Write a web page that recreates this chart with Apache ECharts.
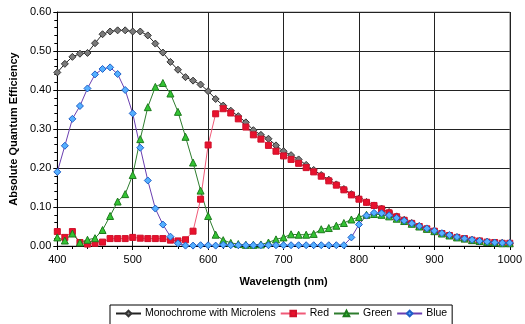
<!DOCTYPE html>
<html>
<head>
<meta charset="utf-8">
<script src="https://cdn.jsdelivr.net/npm/echarts@6/dist/echarts.min.js"></script>
<style>
  html, body { margin: 0; padding: 0; background: #fff; }
  #chart { width: 525px; height: 324px; }
</style>
</head>
<body>
<div id="chart"></div>
<script>
const wavelengths = [400, 410, 420, 430, 440, 450, 460, 470, 480, 490,
  500, 510, 520, 530, 540, 550, 560, 570, 580, 590,
  600, 610, 620, 630, 640, 650, 660, 670, 680, 690,
  700, 710, 720, 730, 740, 750, 760, 770, 780, 790,
  800, 810, 820, 830, 840, 850, 860, 870, 880, 890,
  900, 910, 920, 930, 940, 950, 960, 970, 980, 990, 1000]

const mono = [0.445, 0.467, 0.485, 0.493, 0.495, 0.520, 0.543, 0.550, 0.553, 0.553,
  0.550, 0.550, 0.540, 0.519, 0.496, 0.472, 0.452, 0.433, 0.424, 0.414,
  0.397, 0.377, 0.360, 0.347, 0.333, 0.317, 0.297, 0.285, 0.275, 0.258,
  0.243, 0.233, 0.222, 0.208, 0.195, 0.182, 0.170, 0.158, 0.146, 0.133,
  0.122, 0.113, 0.104, 0.096, 0.087, 0.076, 0.067, 0.059, 0.051, 0.045,
  0.039, 0.032, 0.027, 0.022, 0.019, 0.015, 0.013, 0.011, 0.009, 0.008, 0.007]

const red = [0.037, 0.022, 0.037, 0.009, 0.005, 0.007, 0.010, 0.019, 0.019, 0.019,
  0.022, 0.020, 0.019, 0.019, 0.019, 0.015, 0.013, 0.016, 0.038, 0.120,
  0.259, 0.339, 0.352, 0.341, 0.326, 0.305, 0.285, 0.274, 0.258, 0.243,
  0.231, 0.222, 0.212, 0.201, 0.190, 0.179, 0.167, 0.156, 0.144, 0.131,
  0.120, 0.112, 0.104, 0.095, 0.085, 0.075, 0.066, 0.058, 0.050, 0.044,
  0.038, 0.032, 0.027, 0.022, 0.019, 0.015, 0.013, 0.010, 0.009, 0.007, 0.007]

const green = [0.022, 0.014, 0.032, 0.009, 0.016, 0.020, 0.041, 0.077, 0.114, 0.133,
  0.182, 0.274, 0.356, 0.408, 0.418, 0.391, 0.344, 0.280, 0.214, 0.142,
  0.077, 0.029, 0.015, 0.008, 0.005, 0.003, 0.003, 0.004, 0.009, 0.017,
  0.022, 0.030, 0.029, 0.029, 0.031, 0.043, 0.046, 0.052, 0.059, 0.068,
  0.074, 0.080, 0.082, 0.080, 0.076, 0.070, 0.064, 0.057, 0.050, 0.044,
  0.038, 0.032, 0.027, 0.022, 0.019, 0.015, 0.013, 0.010, 0.009, 0.007, 0.007]

const blue = [0.190, 0.257, 0.326, 0.359, 0.404, 0.440, 0.454, 0.458, 0.441, 0.400,
  0.340, 0.252, 0.168, 0.096, 0.055, 0.024, 0.007, 0.001, 0.001, 0.002,
  0.002, 0.001, 0.003, 0.002, 0.002, 0.002, 0.002, 0.002, 0.002, 0.002,
  0.002, 0.002, 0.002, 0.002, 0.002, 0.002, 0.002, 0.002, 0.002, 0.022,
  0.055, 0.078, 0.085, 0.084, 0.079, 0.072, 0.065, 0.058, 0.051, 0.045,
  0.039, 0.033, 0.028, 0.023, 0.019, 0.016, 0.013, 0.011, 0.009, 0.008, 0.008]

const seriesNames = ['Monochrome with Microlens', 'Red', 'Green', 'Blue']

function pairs(values) {
  return wavelengths.map((w, i) => [w, values[i]])
}

const font = 'Liberation Sans, Arial, sans-serif'
const chart = echarts.init(document.getElementById('chart'))

chart.setOption({
  animation: false,
  textStyle: { fontFamily: font },
  grid: {
    left: 52, right: 13, top: 12, bottom: 78,
    show: true, borderColor: '#999', borderWidth: 1
  },
  legend: {
    data: seriesNames,
    top: 305,
    left: 110,
    padding: [3, 5, 6, 5],
    borderColor: '#000',
    borderWidth: 1,
    itemWidth: 25,
    itemHeight: 7,
    itemGap: 4,
    textStyle: { fontSize: 10.5, color: '#000', fontFamily: font, padding: [0, 0, 0, -1] }
  },
  xAxis: {
    type: 'value',
    min: 400, max: 1000, interval: 100,
    name: 'Wavelength (nm)',
    nameLocation: 'middle',
    nameGap: 30,
    nameTextStyle: { fontSize: 11, fontWeight: 'bold', color: '#000' },
    axisLine: { lineStyle: { color: '#000' } },
    axisTick: { length: 4, lineStyle: { color: '#000' } },
    minorTick: { show: true, splitNumber: 5, length: 3, lineStyle: { color: '#000' } },
    axisLabel: { fontSize: 11, color: '#000', margin: 8, formatter: v => String(v) },
    splitLine: { lineStyle: { color: '#222', width: 1 } }
  },
  yAxis: {
    type: 'value',
    min: 0, max: 0.6, interval: 0.1,
    name: 'Absolute Quantum Efficiency',
    nameLocation: 'middle',
    nameGap: 35,
    nameTextStyle: { fontSize: 11, fontWeight: 'bold', color: '#000' },
    axisLine: { show: true, lineStyle: { color: '#000' } },
    axisTick: { show: true, inside: false, length: 4, lineStyle: { color: '#000' } },
    minorTick: { show: true, splitNumber: 5, length: 3, lineStyle: { color: '#000' } },
    axisLabel: { fontSize: 11, color: '#000', margin: 6, formatter: v => v.toFixed(2) },
    splitLine: { lineStyle: { color: '#222', width: 1 } }
  },
  series: [
    {
      name: seriesNames[0], type: 'line', data: pairs(mono),
      symbol: 'diamond', symbolSize: 7,
      lineStyle: { color: '#222', width: 1 },
      itemStyle: { color: '#7a7a7a', borderColor: '#333', borderWidth: 1 }
    },
    {
      name: seriesNames[1], type: 'line', data: pairs(red),
      symbol: 'rect', symbolSize: 6,
      lineStyle: { color: '#f05a78', width: 1 },
      itemStyle: { color: '#e8112d', borderColor: '#d0102a', borderWidth: 1 }
    },
    {
      name: seriesNames[2], type: 'line', data: pairs(green),
      symbol: 'triangle', symbolSize: 7,
      lineStyle: { color: '#2e7d2e', width: 1 },
      itemStyle: { color: '#33c433', borderColor: '#1d7a1d', borderWidth: 1 }
    },
    {
      name: seriesNames[3], type: 'line', data: pairs(blue),
      symbol: 'diamond', symbolSize: 7,
      lineStyle: { color: '#6a3fb0', width: 1 },
      itemStyle: { color: '#55b0ff', borderColor: '#1f5fc8', borderWidth: 1 }
    }
  ]
})
</script>
</body>
</html>
